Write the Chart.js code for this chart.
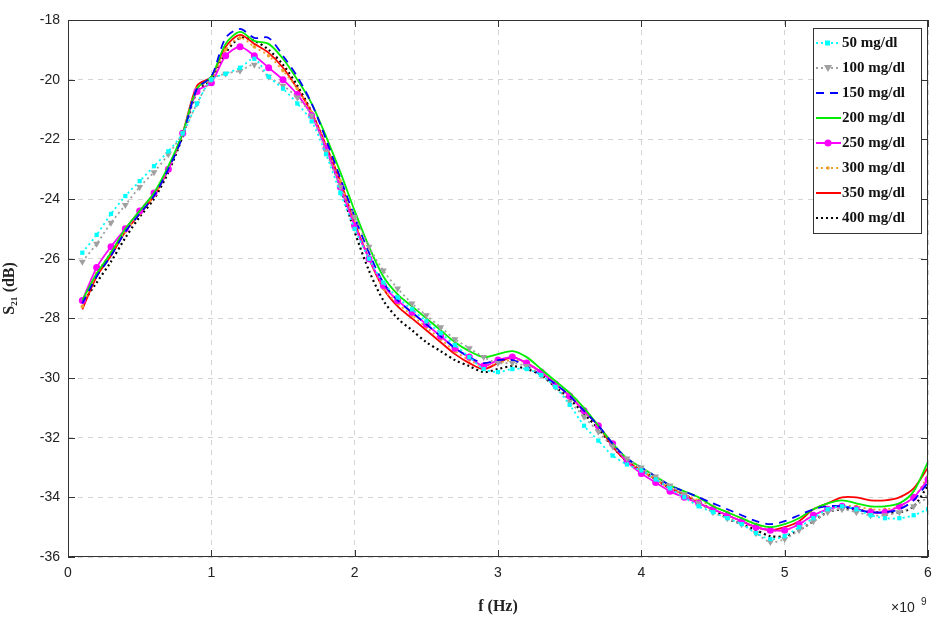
<!DOCTYPE html>
<html>
<head>
<meta charset="utf-8">
<script src="https://cdn.jsdelivr.net/npm/chart.js@4"></script>
<style>
  body { margin: 0; background: #fff; }
  #wrap { width: 946px; height: 620px; }
</style>
</head>
<body>
<div id="wrap"><canvas id="s21Chart" width="946" height="620"></canvas></div>
<script>
// frequency in GHz (axis shows x10^9 Hz)
const freq = [];
for (let i = 1; i <= 60; i++) freq.push(i / 10);

const s50 = [-25.8,-25.2,-24.5,-23.9,-23.4,-22.9,-22.4,-21.8,-20.8,-20.0,
  -19.8,-19.6,-19.3,-19.9,-20.3,-20.8,-21.4,-22.5,-23.8,-25.0,
  -26.0,-26.8,-27.3,-27.7,-28.1,-28.5,-28.9,-29.3,-29.7,-29.8,
  -29.7,-29.7,-29.9,-30.3,-30.9,-31.6,-32.1,-32.6,-32.9,-33.1,
  -33.4,-33.7,-34.0,-34.3,-34.5,-34.7,-34.9,-35.2,-35.4,-35.3,
  -35.0,-34.7,-34.4,-34.3,-34.4,-34.6,-34.7,-34.7,-34.6,-34.4];
const s100 = [-26.1,-25.5,-24.8,-24.2,-23.6,-23.1,-22.5,-21.8,-20.8,-20.0,
  -19.8,-19.7,-19.5,-19.9,-20.2,-20.6,-21.2,-22.4,-23.6,-24.6,
  -25.6,-26.4,-27.0,-27.5,-27.9,-28.3,-28.7,-29.0,-29.3,-29.5,
  -29.5,-29.6,-29.9,-30.3,-30.8,-31.3,-31.8,-32.3,-32.7,-33.0,
  -33.3,-33.6,-33.9,-34.2,-34.5,-34.7,-34.9,-35.2,-35.5,-35.4,
  -35.1,-34.8,-34.5,-34.4,-34.5,-34.6,-34.6,-34.5,-34.3,-34.0];
const s150 = [-27.5,-26.6,-25.9,-25.1,-24.5,-23.9,-23.0,-21.9,-20.3,-19.9,
  -18.6,-18.3,-18.6,-18.6,-19.2,-19.9,-20.8,-22.0,-23.3,-24.6,
  -25.8,-26.8,-27.4,-27.8,-28.2,-28.6,-29.0,-29.3,-29.5,-29.4,
  -29.4,-29.6,-29.9,-30.2,-30.6,-31.1,-31.6,-32.2,-32.7,-33.0,
  -33.3,-33.6,-33.8,-34.0,-34.2,-34.4,-34.6,-34.8,-34.9,-34.8,
  -34.6,-34.4,-34.3,-34.3,-34.4,-34.5,-34.5,-34.4,-34.1,-33.5];
const s200 = [-27.4,-26.5,-25.8,-25.0,-24.4,-23.8,-22.9,-21.8,-20.3,-19.9,
  -18.8,-18.4,-18.7,-18.8,-19.3,-20.0,-20.8,-21.9,-23.1,-24.4,
  -25.6,-26.6,-27.2,-27.6,-28.0,-28.4,-28.8,-29.1,-29.3,-29.2,
  -29.1,-29.3,-29.7,-30.1,-30.5,-31.0,-31.6,-32.2,-32.7,-33.0,
  -33.3,-33.6,-33.8,-34.0,-34.3,-34.5,-34.7,-34.9,-35.0,-34.9,
  -34.7,-34.4,-34.2,-34.1,-34.2,-34.3,-34.3,-34.2,-33.8,-32.8];
const s250 = [-27.4,-26.3,-25.6,-25.0,-24.4,-23.8,-23.0,-21.8,-20.4,-20.1,
  -19.2,-18.9,-19.2,-19.6,-20.0,-20.5,-21.2,-22.3,-23.6,-24.9,
  -26.0,-26.9,-27.4,-27.8,-28.2,-28.6,-29.0,-29.3,-29.6,-29.4,
  -29.3,-29.5,-29.8,-30.2,-30.6,-31.1,-31.6,-32.2,-32.8,-33.2,
  -33.5,-33.8,-34.0,-34.2,-34.4,-34.6,-34.8,-35.0,-35.1,-35.1,
  -34.9,-34.6,-34.4,-34.3,-34.4,-34.5,-34.5,-34.3,-34.0,-33.4];
const s300 = [-27.6,-26.5,-25.8,-25.1,-24.5,-23.9,-23.0,-21.8,-20.3,-20.0,
  -19.0,-18.6,-18.9,-19.2,-19.7,-20.3,-21.1,-22.2,-23.4,-24.8,
  -26.0,-27.0,-27.5,-27.9,-28.3,-28.7,-29.1,-29.4,-29.6,-29.5,
  -29.4,-29.5,-29.8,-30.2,-30.6,-31.1,-31.6,-32.2,-32.8,-33.1,
  -33.4,-33.7,-33.9,-34.1,-34.3,-34.5,-34.7,-34.9,-35.1,-35.1,
  -34.9,-34.6,-34.4,-34.3,-34.3,-34.4,-34.4,-34.3,-34.0,-33.3];
const s350 = [-27.7,-26.6,-25.9,-25.1,-24.5,-23.9,-23.0,-21.8,-20.2,-19.9,
  -18.9,-18.5,-18.8,-19.1,-19.6,-20.3,-21.1,-22.2,-23.4,-24.8,
  -26.0,-27.0,-27.6,-28.0,-28.4,-28.8,-29.2,-29.5,-29.7,-29.5,
  -29.3,-29.5,-29.8,-30.2,-30.6,-31.1,-31.6,-32.3,-32.8,-33.1,
  -33.4,-33.7,-33.9,-34.2,-34.4,-34.6,-34.8,-35.0,-35.1,-35.0,
  -34.8,-34.4,-34.2,-34.0,-34.0,-34.1,-34.1,-34.0,-33.7,-33.0];
const s400 = [-27.5,-26.8,-26.1,-25.3,-24.6,-24.0,-23.1,-21.9,-20.4,-20.0,
  -19.1,-18.6,-18.7,-19.0,-19.5,-20.2,-21.1,-22.3,-23.6,-25.1,
  -26.4,-27.4,-28.0,-28.4,-28.8,-29.1,-29.4,-29.6,-29.8,-29.7,
  -29.6,-29.7,-29.9,-30.3,-30.7,-31.2,-31.7,-32.3,-32.8,-33.1,
  -33.4,-33.7,-33.9,-34.2,-34.4,-34.7,-34.9,-35.1,-35.3,-35.3,
  -35.1,-34.8,-34.5,-34.4,-34.4,-34.5,-34.5,-34.5,-34.3,-33.6];

const yTicks = [-36, -34, -32, -30, -28, -26, -24, -22, -20, -18];
const xTicks = [0, 1, 2, 3, 4, 5, 6];

const serif = '"Liberation Serif", "DejaVu Serif", serif';
const sans = '"Liberation Sans", Arial, sans-serif';

function pts(vals) {
  return vals.map((v, i) => ({ x: freq[i], y: v }));
}

const series = [
  { label: '50 mg/dl', data: s50, color: '#00ffff', dash: [2, 3], point: 'rect', r: 3 },
  { label: '100 mg/dl', data: s100, color: '#a0a0a0', dash: [2, 3], point: 'triangle', r: 4, rot: 180 },
  { label: '150 mg/dl', data: s150, color: '#0000ff', dash: [8, 6], point: false, r: 0 },
  { label: '200 mg/dl', data: s200, color: '#00ee00', dash: [], point: false, r: 0 },
  { label: '250 mg/dl', data: s250, color: '#ff00ff', dash: [], point: 'circle', r: 3.5 },
  { label: '300 mg/dl', data: s300, color: '#f0a030', dash: [2, 3], point: 'circle', r: 1.8 },
  { label: '350 mg/dl', data: s350, color: '#ff0000', dash: [], point: false, r: 0 },
  { label: '400 mg/dl', data: s400, color: '#000000', dash: [2, 3], point: false, r: 0 }
];

const datasets = series.map(s => ({
  label: s.label,
  data: pts(s.data),
  borderColor: s.color,
  backgroundColor: s.color,
  borderWidth: s.label === '400 mg/dl' ? 2.2 : 1.8,
  borderDash: s.dash,
  pointStyle: s.point,
  pointRadius: s.r,
  pointRotation: s.rot || 0,
  pointBorderWidth: 0,
  tension: 0.3
}));

// frame with inward ticks, legend inside the plot, x10^9 note
const extras = {
  id: 'extras',
  afterDraw(chart) {
    const c = chart.ctx;
    const a = chart.chartArea;
    c.save();
    c.strokeStyle = '#333';
    c.lineWidth = 1;
    c.setLineDash([]);
    c.strokeRect(a.left + 0.5, a.top + 0.5, a.right - a.left - 1, a.bottom - a.top - 1);
    c.beginPath();
    xTicks.forEach(v => {
      const px = Math.round(chart.scales.x.getPixelForValue(v)) + 0.5;
      c.moveTo(px, a.bottom); c.lineTo(px, a.bottom - 7);
      c.moveTo(px, a.top); c.lineTo(px, a.top + 7);
    });
    yTicks.forEach(v => {
      const py = Math.round(chart.scales.y.getPixelForValue(v)) + 0.5;
      c.moveTo(a.left, py); c.lineTo(a.left + 7, py);
      c.moveTo(a.right, py); c.lineTo(a.right - 7, py);
    });
    c.stroke();

    const x0 = 813, y0 = 28, w = 108, h = 205;
    c.fillStyle = '#fff';
    c.fillRect(x0, y0, w, h);
    c.strokeRect(x0 + 0.5, y0 + 0.5, w, h);
    series.forEach((s, i) => {
      const y = y0 + 15 + i * 25;
      c.strokeStyle = s.color;
      c.lineWidth = 2;
      c.setLineDash(s.dash);
      c.beginPath();
      c.moveTo(x0 + 3, y);
      c.lineTo(x0 + 28, y);
      c.stroke();
      c.setLineDash([]);
      if (s.point) {
        c.fillStyle = s.color;
        c.beginPath();
        if (s.point === 'rect') c.rect(x0 + 12, y - 2.5, 5, 5);
        else if (s.point === 'triangle') { c.moveTo(x0 + 11, y - 3); c.lineTo(x0 + 19, y - 3); c.lineTo(x0 + 15, y + 4); }
        else c.arc(x0 + 15, y, s.r, 0, Math.PI * 2);
        c.fill();
      }
      c.fillStyle = '#111';
      c.font = 'bold 15px ' + serif;
      c.textBaseline = 'middle';
      c.fillText(s.label, x0 + 29, y);
    });
    c.font = '14px ' + sans;
    c.fillStyle = '#222';
    c.textBaseline = 'alphabetic';
    c.fillText('\u00d710', 891, 612);
    c.font = '10px ' + sans;
    c.fillText('9', 921, 605);
    c.restore();
  }
};

new Chart(document.getElementById('s21Chart'), {
  type: 'line',
  data: { datasets },
  plugins: [extras],
  options: {
    responsive: false,
    animation: false,
    layout: { padding: { top: 20, right: 18, left: 0, bottom: 0 } },
    plugins: { legend: { display: false }, tooltip: { enabled: false } },
    scales: {
      x: {
        type: 'linear', min: 0, max: 6,
        afterBuildTicks: ax => { ax.ticks = xTicks.map(v => ({ value: v })); },
        afterFit: ax => { ax.height = 63; },
        grid: { color: '#d4d4d4', drawTicks: false },
        border: { display: false, dash: [5, 5] },
        ticks: { color: '#222', padding: 8, font: { family: sans, size: 14 } },
        title: { display: true, text: 'f (Hz)', color: '#222', padding: { top: 2 }, font: { family: serif, size: 16, weight: 'bold' } }
      },
      y: {
        min: -36, max: -18,
        afterBuildTicks: ax => { ax.ticks = yTicks.map(v => ({ value: v })); },
        afterFit: ax => { ax.width = 68; },
        grid: { color: '#d4d4d4', drawTicks: false },
        border: { display: false, dash: [5, 5] },
        ticks: { color: '#222', padding: 8, font: { family: sans, size: 14 } },
        title: { display: true, text: 'S\u2082\u2081 (dB)', color: '#222', padding: 0, font: { family: serif, size: 16, weight: 'bold' } }
      }
    }
  }
});
</script>
</body>
</html>
